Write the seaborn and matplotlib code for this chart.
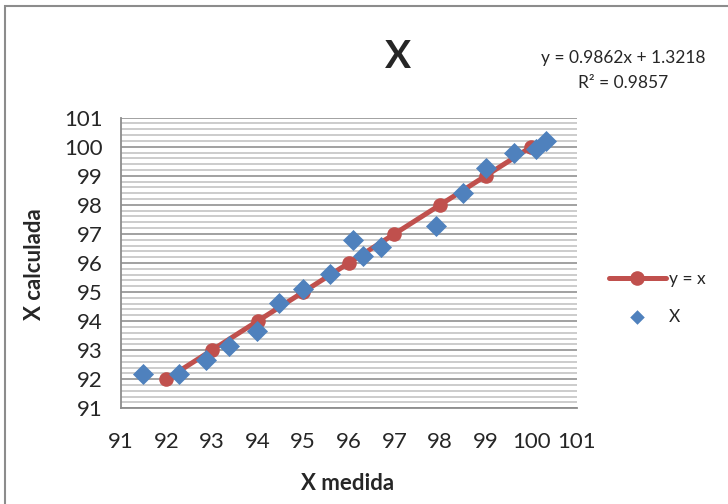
import numpy as np
import pandas as pd
import seaborn as sns
import matplotlib.pyplot as plt
from matplotlib.ticker import MultipleLocator
from matplotlib.patches import Rectangle

# y = x reference line
ref_x = [92, 93, 94, 95, 96, 97, 98, 99, 100]
ref_y = [92, 93, 94, 95, 96, 97, 98, 99, 100]

# X medida vs X calculada
x_medida = [91.48, 92.28, 92.88, 93.38, 93.98, 94.48, 94.99, 95.58, 96.09, 96.30,
            96.70, 97.91, 98.50, 99.01, 99.61, 100.11, 100.32]
x_calc = [92.18, 92.18, 92.66, 93.15, 93.65, 94.63, 95.10, 95.61, 96.79, 96.24,
          96.56, 97.27, 98.40, 99.28, 99.80, 99.91, 100.21]

ticks = list(range(91, 102))

sns.set_style('white')
plt.rcParams['font.family'] = ['Lato', 'DejaVu Sans']

fig = plt.figure(figsize=(7.28, 5.04), dpi=100)
ax = fig.add_axes([0.1658, 0.1899, 0.6268, 0.5766])

ref = pd.DataFrame({'x': ref_x, 'y': ref_y})
pts = pd.DataFrame({'x': x_medida, 'y': x_calc})

sns.lineplot(data=ref, x='x', y='y', ax=ax, color='#C0504D', lw=3.6,
             marker='o', markersize=10.5, markeredgewidth=0, label='y = x', zorder=3)
sns.scatterplot(data=pts, x='x', y='y', ax=ax, color='#4F81BD', marker='D',
                s=115, linewidth=0, label='X', zorder=4)

ax.set_xlim(91, 101)
ax.set_ylim(91, 101)
ax.set_xticks(ticks)
ax.set_yticks(ticks)
ax.yaxis.set_minor_locator(MultipleLocator(0.2))
ax.grid(which='major', axis='y', color='#9A9A9A', lw=1.3)
ax.grid(which='minor', axis='y', color='#C8C8C8', lw=1.3)
ax.set_axisbelow(True)
for s in ['top', 'right']:
    ax.spines[s].set_visible(False)
for s in ['left', 'bottom']:
    ax.spines[s].set_color('#8C8C8C')
    ax.spines[s].set_linewidth(1.3)
ax.tick_params(axis='both', which='major', direction='out', length=7, width=1.3,
               color='#8C8C8C', labelsize=16, pad=6)
ax.tick_params(axis='y', which='minor', length=0)
ax.tick_params(axis='x', pad=10)

ax.set_xlabel('X medida', fontsize=16, fontweight='bold')
ax.set_ylabel('X calculada', fontsize=16, fontweight='bold')
ax.xaxis.set_label_coords(0.497, -0.222)
ax.yaxis.set_label_coords(-0.166, 0.495)
fig.text(0.547, 0.887, 'X', fontsize=28, fontweight='bold', ha='center', va='center')
fig.text(0.856, 0.884, 'y = 0.9862x + 1.3218', fontsize=12.5, ha='center', va='center')
fig.text(0.856, 0.836, 'R² = 0.9857', fontsize=12.5, ha='center', va='center')

leg = ax.legend(loc='center left', bbox_to_anchor=(1.035, 0.38), frameon=False,
                fontsize=12.5, handlelength=3.3, labelspacing=1.25, handletextpad=0.15)
leg.legend_handles[1].set_sizes([55])

fig.patches.append(Rectangle((5 / 728, -0.1), 1.2, 1.1 - 6 / 504, transform=fig.transFigure,
                             fill=False, edgecolor='#8C8C8C', lw=1.5))

fig.savefig('out.png', dpi=100)
